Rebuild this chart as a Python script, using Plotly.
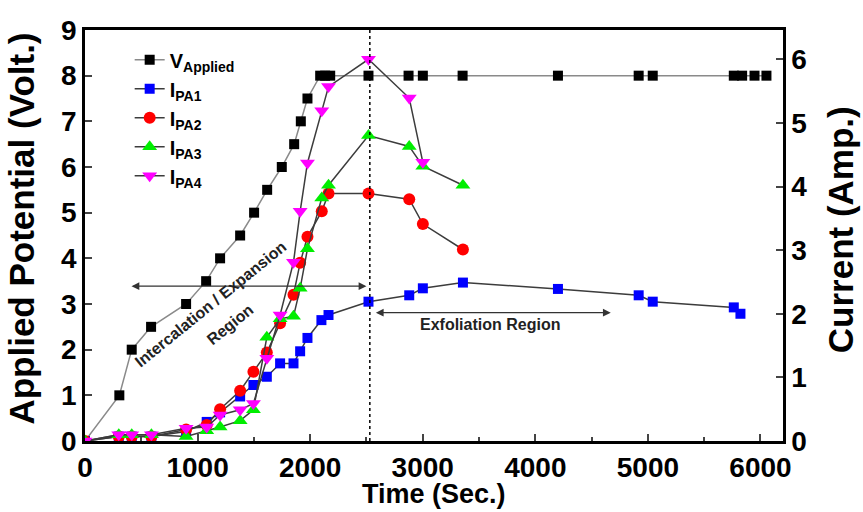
import plotly.graph_objects as go

# ---- data ----
t_V = [0, 305, 415, 587, 898, 1076, 1200, 1378, 1502, 1618, 1748, 1858, 1917, 1976,
       2089, 2133, 2178, 2518, 2874, 3001, 3354, 4201, 4918, 5043, 5763, 5837, 5947, 6053]
V_applied = [0, 1, 2, 2.5, 3, 3.5, 4, 4.5, 5, 5.5, 6, 6.5, 7, 7.5,
             8, 8, 8, 8, 8, 8, 8, 8, 8, 8, 8, 8, 8, 8]

t_I1 = [0, 300, 415, 590, 898, 1081, 1200, 1378, 1496, 1615, 1733, 1852, 1911, 1976,
        2100, 2163, 2518, 2880, 3001, 3357, 4201, 4918, 5043, 5763, 5822]
I_PA1 = [0, 0.07, 0.07, 0.07, 0.15, 0.30, 0.45, 0.70, 0.88, 1.01, 1.22, 1.22, 1.41, 1.62,
         1.90, 1.98, 2.19, 2.29, 2.40, 2.49, 2.39, 2.29, 2.19, 2.10, 2.0]

t_I2 = [0, 300, 415, 590, 898, 1081, 1200, 1378, 1496, 1615, 1733, 1852, 1911, 1976,
        2103, 2163, 2518, 2880, 3001, 3357]
I_PA2 = [0, 0.07, 0.07, 0.07, 0.18, 0.25, 0.50, 0.79, 1.09, 1.39, 1.85, 2.30, 2.80, 3.21,
         3.61, 3.89, 3.89, 3.80, 3.41, 3.01]

t_I3 = [0, 300, 415, 590, 898, 1081, 1200, 1378, 1496, 1615, 1733, 1852, 1911, 1976,
        2103, 2163, 2518, 2880, 3001, 3357]
I_PA3 = [0, 0.1, 0.1, 0.1, 0.07, 0.16, 0.22, 0.32, 0.49, 1.63, 1.92, 1.96, 2.40, 3.02,
         3.82, 4.02, 4.80, 4.63, 4.32, 4.02]

t_I4 = [0, 300, 415, 590, 898, 1081, 1200, 1378, 1496, 1615, 1733, 1852, 1911, 1976,
        2103, 2163, 2518, 2880, 3001]
I_PA4 = [0, 0.1, 0.1, 0.1, 0.2, 0.22, 0.41, 0.49, 0.59, 1.30, 1.98, 2.81, 3.61, 4.37,
         5.19, 5.57, 6.0, 5.39, 4.38]

x_ticks = [0, 1000, 2000, 3000, 4000, 5000, 6000]
y_ticks = [0, 1, 2, 3, 4, 5, 6, 7, 8, 9]
y2_ticks = [0, 1, 2, 3, 4, 5, 6]

FONT = "Liberation Sans"
I_LINE = "#3c3c3c"

fig = go.Figure()
fig.add_trace(go.Scatter(x=t_V, y=V_applied, name="V<sub>Applied</sub>", mode="lines+markers",
                         line=dict(color="#8a8a8a", width=1.5),
                         marker=dict(symbol="square", size=10, color="black"), yaxis="y"))
series = [
    (t_I1, I_PA1, "I<sub>PA1</sub>", "square", "#0000ff", 10),
    (t_I2, I_PA2, "I<sub>PA2</sub>", "circle", "#ff0000", 12),
    (t_I3, I_PA3, "I<sub>PA3</sub>", "triangle-up", "#00ee00", 13),
    (t_I4, I_PA4, "I<sub>PA4</sub>", "triangle-down", "#ff00ff", 13),
]
for tx, yy, nm, sym, col, sz in series:
    fig.add_trace(go.Scatter(x=tx, y=yy, name=nm, mode="lines+markers",
                             line=dict(color=I_LINE, width=1.5),
                             marker=dict(symbol=sym, size=sz, color=col, line=dict(width=0)),
                             yaxis="y2"))

tickfont = dict(family=FONT, size=28, color="black", weight="bold")

fig.update_layout(
    width=863, height=512,
    margin=dict(l=85, r=80, t=30, b=71),
    paper_bgcolor="white", plot_bgcolor="white",
    showlegend=True,
    legend=dict(x=0.064, y=0.975, xanchor="left", yanchor="top",
                font=dict(family=FONT, size=20, color="black", weight="bold"),
                bgcolor="rgba(0,0,0,0)", tracegroupgap=0),
    xaxis=dict(range=[0, 6200], tickvals=x_ticks, ticks="inside", ticklen=7, tickwidth=2,
               minor=dict(dtick=500, ticks="inside", ticklen=4, tickwidth=2),
               showline=True, linecolor="black", linewidth=2.5, mirror=True,
               showgrid=False, zeroline=False, tickfont=tickfont, automargin=False),
    yaxis=dict(range=[0, 9], tickvals=y_ticks, ticks="inside", ticklen=7, tickwidth=2,
               showline=True, linecolor="black", linewidth=2.5, mirror=True,
               showgrid=False, zeroline=False, tickfont=tickfont, automargin=False),
    yaxis2=dict(range=[0, 6.46], tickvals=y2_ticks, ticks="inside", ticklen=7, tickwidth=2,
                overlaying="y", side="right",
                showline=True, linecolor="black", linewidth=2.5,
                showgrid=False, zeroline=False, tickfont=tickfont, automargin=False),
)

# axis titles
fig.add_annotation(x=0.5, y=-0.129, xref="paper", yref="paper", text="Time (Sec.)",
                   showarrow=False, xanchor="center", yanchor="middle",
                   font=dict(family=FONT, size=27, color="black", weight="bold"))
fig.add_annotation(x=-0.091, y=0.518, xref="paper", yref="paper",
                   text="Applied Potential (Volt.)", textangle=-90,
                   showarrow=False, xanchor="center", yanchor="middle",
                   font=dict(family=FONT, size=35, color="black", weight="bold"))
fig.add_annotation(x=1.0817, y=0.513, xref="paper", yref="paper",
                   text="Current (Amp.)", textangle=-90,
                   showarrow=False, xanchor="center", yanchor="middle",
                   font=dict(family=FONT, size=35, color="black", weight="bold"))

# vertical dotted separator
fig.add_shape(type="line", x0=2530, x1=2530, y0=0, y1=1, xref="x", yref="paper",
              line=dict(color="black", width=1.5, dash="dot"))

# double-headed arrows
fig.add_annotation(x=2500, y=3.39, ax=400, ay=3.39, xref="x", yref="y", axref="x", ayref="y",
                   showarrow=True, arrowhead=2, arrowside="end+start", arrowsize=1.2,
                   arrowwidth=1.3, arrowcolor="#333333", text="")
fig.add_annotation(x=4670, y=2.81, ax=2570, ay=2.81, xref="x", yref="y", axref="x", ayref="y",
                   showarrow=True, arrowhead=2, arrowside="end+start", arrowsize=1.2,
                   arrowwidth=1.3, arrowcolor="#333333", text="")

annfont = dict(family=FONT, size=16, color="#222222", weight="bold")
fig.add_annotation(x=1111, y=2.99, xref="x", yref="y", text="Intercalation / Expansion",
                   textangle=-39, showarrow=False, font=annfont)
fig.add_annotation(x=1289, y=2.55, xref="x", yref="y", text="Region",
                   textangle=-39, showarrow=False, font=annfont)
fig.add_annotation(x=3600, y=2.55, xref="x", yref="y", text="Exfoliation Region",
                   showarrow=False, font=annfont)

fig.write_html("out.html")
